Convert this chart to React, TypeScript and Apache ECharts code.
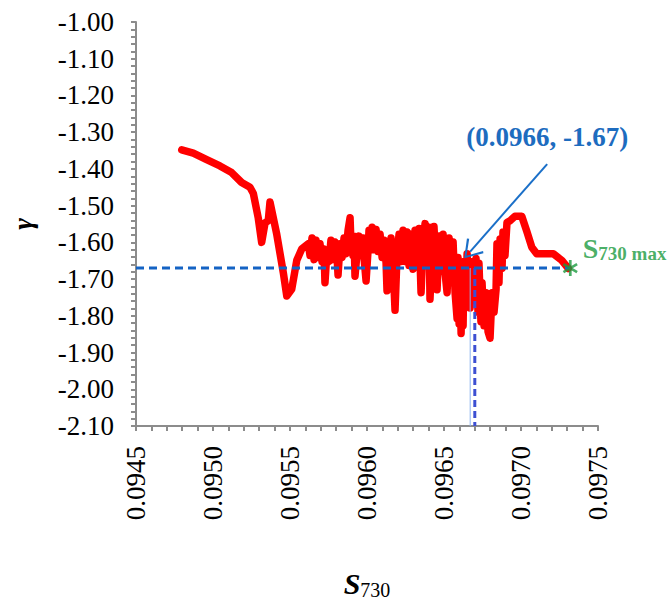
import React, { useEffect, useRef } from "react";
import * as echarts from "echarts";

// S730 values (x) and gamma values (y)
const sValues = [
  0.094797, 0.094872, 0.094959, 0.095045, 0.095121, 0.095186, 0.09524, 0.095262,
  0.095294, 0.095316, 0.095338, 0.095359, 0.09537, 0.095414, 0.095457, 0.095479,
  0.095511, 0.095544, 0.095576, 0.095619,
  0.09563, 0.095643, 0.095656, 0.095669, 0.095682, 0.095695, 0.095708, 0.095721,
  0.095727, 0.09574, 0.095753, 0.095766, 0.095779, 0.095792, 0.095805, 0.095812,
  0.095825, 0.095838, 0.095851, 0.095864, 0.095877, 0.09589, 0.095896, 0.095909,
  0.095916, 0.095922, 0.095935, 0.095948, 0.095961, 0.095974, 0.095981, 0.095994,
  0.096007, 0.096013, 0.096026, 0.096033, 0.096046, 0.096059, 0.096072, 0.096085,
  0.096098, 0.096111, 0.096124, 0.09613, 0.096143, 0.096156, 0.096169, 0.096182,
  0.096195, 0.096208, 0.096221, 0.096234, 0.096247, 0.09626, 0.096273, 0.096286,
  0.096299, 0.096312, 0.096325, 0.096338, 0.096351, 0.096364, 0.096377, 0.09639,
  0.096403, 0.096409, 0.096422, 0.096435, 0.096448, 0.096455, 0.096468, 0.096481,
  0.096494, 0.096507, 0.09652, 0.096533, 0.096546, 0.096559, 0.096572, 0.096585,
  0.096591, 0.096598, 0.096604, 0.096611, 0.096617, 0.096624, 0.09663, 0.096643,
  0.09665, 0.096663, 0.096669, 0.096676, 0.096689, 0.096702, 0.096708, 0.096721,
  0.096727, 0.09674, 0.096747, 0.09676, 0.096773, 0.096786, 0.096799, 0.096812,
  0.096825, 0.096838, 0.096844, 0.096857, 0.096864, 0.096877, 0.096883, 0.096896,
  0.096909, 0.096929,
  0.096961, 0.097005, 0.097037, 0.09707, 0.097102, 0.097167, 0.09721, 0.097265,
  0.097307,
];
const gammaValues = [
  -1.348, -1.357, -1.375, -1.392, -1.41, -1.437, -1.45, -1.467,
  -1.534, -1.6, -1.547, -1.541, -1.49, -1.578, -1.684, -1.746,
  -1.728, -1.649, -1.618, -1.604,
  -1.636, -1.588, -1.647, -1.594, -1.641, -1.604, -1.652, -1.618,
  -1.71, -1.625, -1.652, -1.594, -1.647, -1.599, -1.636, -1.689,
  -1.604, -1.641, -1.588, -1.631, -1.567, -1.533, -1.604, -1.636,
  -1.583, -1.692, -1.631, -1.583, -1.636, -1.588, -1.644, -1.705,
  -1.62, -1.567, -1.62, -1.559, -1.62, -1.565, -1.625, -1.578,
  -1.641, -1.594, -1.657, -1.732, -1.636, -1.588, -1.657, -1.785,
  -1.636, -1.578, -1.652, -1.567, -1.652, -1.572, -1.663, -1.578,
  -1.673, -1.567, -1.657, -1.562, -1.737, -1.604, -1.549, -1.663,
  -1.559, -1.755, -1.631, -1.557, -1.671, -1.729, -1.583, -1.679,
  -1.578, -1.684, -1.737, -1.588, -1.689, -1.599, -1.737, -1.808,
  -1.641, -1.822, -1.684, -1.848, -1.716, -1.827, -1.652, -1.763,
  -1.631, -1.737, -1.779, -1.697, -1.652, -1.737, -1.644, -1.79,
  -1.657, -1.816, -1.71, -1.827, -1.737, -1.843, -1.861, -1.737,
  -1.79, -1.729, -1.604, -1.71, -1.591, -1.671, -1.572, -1.636,
  -1.546, -1.541,
  -1.529, -1.529, -1.569, -1.613, -1.631, -1.631, -1.631, -1.649,
  -1.671,
];

// Annotation values
const sMaxPoint = [0.09732, -1.67];
const refPointLabel = "(0.0966, -1.67)";
const refS = 0.0967;
const refSThin = 0.09667;
const refGamma = -1.67;
const arrowFrom = [0.09717, -1.387];
const arrowTo = [0.09667, -1.625];
const labelAt = [0.09717, -1.313];

const xMin = 0.0945;
const xMax = 0.0975;
const xStep = 0.0005;
const yMin = -2.1;
const yMax = -1.0;
const yStep = 0.1;

const SERIF = "'Liberation Serif', 'Times New Roman', serif";

const starPath =
  "path://M-1.2,-7L1.2,-7L1.2,7L-1.2,7Z M5.462,-4.539L6.662,-2.461L-5.462,4.539L-6.662,2.461Z M-6.662,-2.461L-5.462,-4.539L6.662,2.461L5.462,4.539Z";
const chevronPath = "path://M10,0L20,15L18.4,16.3L10,3.2L1.6,16.3L0,15Z";

export default function App() {
  const ref = useRef<HTMLDivElement>(null);
  useEffect(() => {
    if (!ref.current) return;
    const chart = echarts.init(ref.current, undefined, { renderer: "svg" });
    const redData = sValues.map((s, i) => [s, gammaValues[i]]);
    chart.setOption({
      animation: false,
      backgroundColor: "#ffffff",
      grid: { left: 136, right: 70, top: 22, bottom: 168, containLabel: false },
      xAxis: {
        type: "value",
        min: xMin,
        max: xMax,
        interval: xStep,
        name: "{s|S}{sub|730}",
        nameLocation: "middle",
        nameGap: 140,
        nameTextStyle: {
          rich: {
            s: { fontFamily: SERIF, fontSize: 30, fontWeight: "bold", fontStyle: "italic", color: "#000" },
            sub: { fontFamily: SERIF, fontSize: 20, color: "#000", padding: [14, 0, 0, 0] },
          },
        },
        axisLine: { show: true, lineStyle: { color: "#8c8c8c", width: 2 } },
        axisTick: { show: true, length: 5, lineStyle: { color: "#8c8c8c", width: 2 } },
        minorTick: { show: true, splitNumber: 5, length: 5, lineStyle: { color: "#8c8c8c", width: 2 } },
        splitLine: { show: false },
        axisLabel: {
          rotate: 90,
          margin: 20,
          fontFamily: SERIF,
          fontSize: 27,
          color: "#000",
          formatter: (v: number) => v.toFixed(4),
        },
      },
      yAxis: {
        type: "value",
        min: yMin,
        max: yMax,
        interval: yStep,
        name: "γ",
        nameLocation: "middle",
        nameRotate: 90,
        nameGap: 100,
        nameTextStyle: { fontFamily: SERIF, fontSize: 28, fontStyle: "italic", fontWeight: "bold", color: "#000" },
        axisLine: { show: true, lineStyle: { color: "#8c8c8c", width: 2 } },
        axisTick: { show: true, length: 5, lineStyle: { color: "#8c8c8c", width: 2 } },
        minorTick: { show: true, splitNumber: 5, length: 5, lineStyle: { color: "#8c8c8c", width: 2 } },
        splitLine: { show: false },
        axisLabel: {
          margin: 22,
          fontFamily: SERIF,
          fontSize: 27,
          color: "#000",
          formatter: (v: number) => v.toFixed(2),
        },
      },
      series: [
        {
          type: "line",
          data: redData,
          symbol: "none",
          lineStyle: { color: "#ff0000", width: 7.5, join: "round", cap: "round" },
          z: 2,
        },
        {
          type: "line",
          data: [[refSThin, refGamma], [refSThin, yMin]],
          symbol: "none",
          lineStyle: { color: "#8fb4ef", width: 1 },
          z: 3,
        },
        {
          type: "line",
          data: [[refS, refGamma], [refS, yMin]],
          symbol: "none",
          lineStyle: { color: "#3d4fd2", width: 3, type: [7, 4] },
          z: 4,
        },
        {
          type: "line",
          data: [[xMin, refGamma], [sMaxPoint[0], refGamma]],
          symbol: "none",
          lineStyle: { color: "#1463c4", width: 3, type: [8, 5] },
          z: 4,
        },
        {
          type: "line",
          data: [],
          symbol: "none",
          z: 5,
          markLine: {
            silent: true,
            symbol: ["none", chevronPath],
            symbolSize: [22, 18],
            label: { show: false },
            lineStyle: { color: "#1a6fc8", width: 2, type: "solid" },
            emphasis: { disabled: true },
            data: [[{ coord: arrowFrom }, { coord: arrowTo }]],
          },
          markPoint: {
            silent: true,
            symbol: "circle",
            symbolSize: 1,
            itemStyle: { color: "rgba(0,0,0,0)" },
            label: {
              show: true,
              position: "inside",
              formatter: refPointLabel,
              fontFamily: SERIF,
              fontSize: 27,
              fontWeight: "bold",
              color: "#1d6cbf",
            },
            data: [{ coord: labelAt }],
          },
        },
        {
          type: "scatter",
          data: [sMaxPoint],
          symbol: starPath,
          symbolSize: [15, 16],
          itemStyle: { color: "#1a9a3e" },
          z: 6,
          label: {
            show: true,
            position: "right",
            distance: 5,
            offset: [0, -20],
            formatter: "{s|S}{sub|730 max}",
            rich: {
              s: { fontFamily: SERIF, fontSize: 28, fontWeight: "bold", color: "#1a9a3e" },
              sub: { fontFamily: SERIF, fontSize: 19, fontWeight: "bold", color: "#1a9a3e", padding: [10, 0, 0, 0] },
            },
          },
        },
      ],
    });
    return () => chart.dispose();
  }, []);
  return <div ref={ref} style={{ width: 668, height: 605, position: "absolute", left: 0, top: 0 }} />;
}
